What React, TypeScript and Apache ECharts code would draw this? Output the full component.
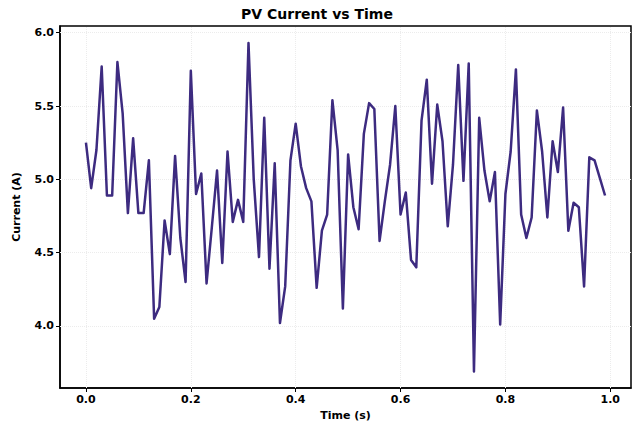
import React, { useEffect, useRef } from "react";
import * as echarts from "echarts";

const times: number[] = Array.from({ length: 100 }, (_, i) => +(i * 0.01).toFixed(2));
const current: number[] = [
  5.25, 4.94, 5.2, 5.77, 4.89, 4.89, 5.8, 5.45, 4.77, 5.28,
  4.77, 4.77, 5.13, 4.05, 4.13, 4.72, 4.49, 5.16, 4.6, 4.3,
  5.74, 4.9, 5.04, 4.29, 4.67, 5.06, 4.43, 5.19, 4.71, 4.86,
  4.71, 5.93, 5.0, 4.47, 5.42, 4.39, 5.11, 4.02, 4.27, 5.13,
  5.38, 5.09, 4.94, 4.85, 4.26, 4.65, 4.76, 5.54, 5.2, 4.12,
  5.17, 4.81, 4.66, 5.31, 5.52, 5.48, 4.58, 4.85, 5.1, 5.5,
  4.76, 4.91, 4.45, 4.4, 5.4, 5.68, 4.97, 5.51, 5.26, 4.68,
  5.1, 5.78, 4.99, 5.79, 3.69, 5.42, 5.06, 4.85, 5.05, 4.01,
  4.9, 5.19, 5.75, 4.76, 4.6, 4.74, 5.47, 5.19, 4.74, 5.26,
  5.05, 5.49, 4.65, 4.84, 4.81, 4.27, 5.15, 5.13, 5.01, 4.89,
];
const xTicks: number[] = [0, 0.2, 0.4, 0.6, 0.8, 1.0];
const yTicks: number[] = [4.0, 4.5, 5.0, 5.5, 6.0];

const FONT = "DejaVu Sans";

export default function App() {
  const ref = useRef<HTMLDivElement>(null);
  useEffect(() => {
    if (!ref.current) return;
    const chart = echarts.init(ref.current, undefined, { renderer: "svg" });
    const gridLine = { color: "#ececec", type: "dotted" as const, width: 1 };
    chart.setOption({
      animation: false,
      backgroundColor: "#ffffff",
      title: {
        text: "PV Current vs Time",
        left: "center",
        top: 2,
        textStyle: { fontFamily: FONT, fontSize: 14, fontWeight: "bold", color: "#000" },
      },
      grid: {
        left: 60,
        right: 3,
        top: 26,
        bottom: 38,
        show: true,
        borderColor: "#000",
        borderWidth: 1.5,
        backgroundColor: "transparent",
      },
      xAxis: {
        type: "value",
        min: -0.0495,
        max: 1.0395,
        name: "Time (s)",
        nameLocation: "middle",
        nameGap: 22,
        nameTextStyle: { fontFamily: FONT, fontSize: 11, fontWeight: "bold", color: "#000" },
        axisLine: { show: true, onZero: false, lineStyle: { color: "#000", width: 1.5 } },
        axisTick: { show: true, length: 4, customValues: xTicks, lineStyle: { color: "#000" } },
        axisLabel: {
          customValues: xTicks,
          formatter: (v: number) => v.toFixed(1),
          fontFamily: FONT,
          fontSize: 11,
          fontWeight: "bold",
          color: "#000",
          margin: 6,
        },
        splitLine: { show: false },
      },
      yAxis: {
        type: "value",
        min: 3.577,
        max: 6.046,
        name: "Current (A)",
        nameLocation: "middle",
        nameGap: 38,
        nameTextStyle: { fontFamily: FONT, fontSize: 11, fontWeight: "bold", color: "#000" },
        axisLine: { show: true, onZero: false, lineStyle: { color: "#000", width: 1.5 } },
        axisTick: { show: true, length: 4, customValues: yTicks, lineStyle: { color: "#000" } },
        axisLabel: {
          customValues: yTicks,
          formatter: (v: number) => v.toFixed(1),
          fontFamily: FONT,
          fontSize: 11,
          fontWeight: "bold",
          color: "#000",
          margin: 6,
        },
        splitLine: { show: false },
      },
      series: [
        {
          type: "line",
          data: [],
          silent: true,
          z: 1,
          markLine: {
            silent: true,
            symbol: "none",
            label: { show: false },
            lineStyle: gridLine,
            z: 1,
            data: [
              ...xTicks.map((x) => ({ xAxis: x })),
              ...yTicks.map((y) => ({ yAxis: y })),
            ],
          },
        },
        {
          type: "line",
          data: times.map((t, i) => [t, current[i]]),
          showSymbol: false,
          symbol: "none",
          lineStyle: { color: "#3d2b80", width: 2.5, join: "round" },
          z: 5,
        },
      ],
    });
    return () => chart.dispose();
  }, []);
  return <div ref={ref} style={{ width: 634, height: 426, position: "absolute", left: 0, top: 0 }} />;
}
